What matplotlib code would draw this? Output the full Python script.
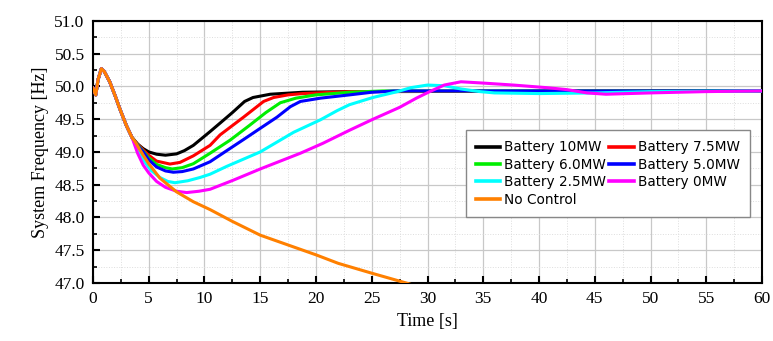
import matplotlib
matplotlib.use('Agg')
import matplotlib.pyplot as plt
from matplotlib.ticker import MultipleLocator, FormatStrFormatter

# common start of all curves (disturbance + first swing)
t_start = [0.0, 0.25, 0.45, 0.75, 1.0, 1.5, 2.0, 2.4, 3.0, 3.5]
f_start = [49.97, 49.87, 50.10, 50.27, 50.23, 50.07, 49.85, 49.66, 49.40, 49.22]

t_10 = [4.0, 4.5, 5.0, 5.7, 6.5, 7.5, 8.2, 9.0, 10.5, 11.4, 12.5, 13.6, 14.35, 15.9, 18.8, 23.0, 60.0]
f_10 = [49.12, 49.05, 49.00, 48.965, 48.95, 48.97, 49.02, 49.10, 49.31, 49.44, 49.60, 49.77, 49.83, 49.88, 49.91, 49.92, 49.93]

t_75 = [4.0, 4.5, 5.0, 5.7, 6.9, 7.8, 9.0, 10.5, 11.4, 13.5, 15.3, 16.2, 17.5, 18.8, 23.0, 60.0]
f_75 = [49.12, 49.03, 48.95, 48.86, 48.815, 48.84, 48.94, 49.10, 49.26, 49.53, 49.77, 49.83, 49.87, 49.89, 49.92, 49.93]

t_60 = [4.0, 4.5, 5.0, 5.7, 6.5, 7.1, 8.0, 9.0, 10.5, 12.3, 14.0, 15.5, 16.8, 18.2, 20.0, 23.0, 26.0, 60.0]
f_60 = [49.11, 49.01, 48.91, 48.81, 48.76, 48.74, 48.76, 48.82, 48.98, 49.18, 49.40, 49.60, 49.75, 49.82, 49.87, 49.91, 49.93, 49.93]

t_50 = [4.0, 4.5, 5.0, 5.7, 6.5, 7.2, 8.0, 9.0, 10.5, 12.0, 13.6, 15.0, 16.5, 17.7, 18.6, 20.4, 23.0, 25.0, 27.0, 60.0]
f_50 = [49.10, 49.00, 48.88, 48.77, 48.71, 48.69, 48.70, 48.74, 48.85, 49.02, 49.20, 49.36, 49.53, 49.69, 49.77, 49.82, 49.87, 49.91, 49.93, 49.93]

t_25 = [4.0, 4.5, 5.2, 6.0, 6.7, 7.35, 8.5, 9.6, 10.5, 12.0, 15.0, 16.8, 18.0, 20.4, 21.9, 23.0, 25.1, 27.3, 28.5, 30.0,
        31.5, 33.0, 34.7, 36.0, 40.0, 45.0, 50.0, 60.0]
f_25 = [49.05, 48.88, 48.72, 48.61, 48.55, 48.53, 48.56, 48.61, 48.66, 48.78, 49.00, 49.18, 49.30, 49.49, 49.63, 49.72, 49.83, 49.92, 49.98, 50.02,
        50.01, 49.96, 49.92, 49.90, 49.89, 49.90, 49.92, 49.93]

t_0 = [4.0, 4.5, 5.0, 5.7, 6.5, 7.5, 8.4, 9.5, 10.5, 12.6, 15.0, 18.6, 20.6, 23.0, 25.0, 27.5, 29.0, 30.2, 31.5, 33.0,
       35.0, 37.7, 40.7, 42.5, 44.3, 46.0, 50.0, 55.0, 60.0]
f_0 = [48.98, 48.80, 48.68, 48.55, 48.46, 48.40, 48.38, 48.40, 48.43, 48.57, 48.74, 48.98, 49.13, 49.33, 49.49, 49.68, 49.82, 49.92, 50.02, 50.07,
       50.05, 50.02, 49.98, 49.95, 49.90, 49.88, 49.90, 49.92, 49.93]

t_nc = [3.8, 4.5, 5.0, 6.0, 7.5, 9.0, 10.5, 12.5, 15.0, 17.5, 20.0, 22.0, 25.0, 28.1, 30.0]
f_nc = [49.15, 48.95, 48.82, 48.60, 48.39, 48.24, 48.12, 47.94, 47.73, 47.58, 47.43, 47.30, 47.15, 47.00, 46.90]

series = [
    ('Battery 10MW', t_10, f_10, 'black'),
    ('Battery 7.5MW', t_75, f_75, '#ff0000'),
    ('Battery 6.0MW', t_60, f_60, '#00ee00'),
    ('Battery 5.0MW', t_50, f_50, '#0000ff'),
    ('Battery 2.5MW', t_25, f_25, '#00ffff'),
    ('Battery 0MW', t_0, f_0, '#ff00ff'),
    ('No Control', t_nc, f_nc, '#ff8000'),
]

plt.rcParams['font.family'] = 'Liberation Serif'
fig = plt.figure(figsize=(7.73, 3.41), dpi=100)
ax = fig.add_axes([0.1203, 0.170, 0.8655, 0.769])

lines = {}
for name, t, f, col in series:
    ln, = ax.plot(t_start + t, f_start + f, color=col, lw=2.2, label=name, zorder=3,
                  solid_joinstyle='round')
    lines[name] = ln

ax.set_xlim(0, 60)
ax.set_ylim(47.0, 51.0)
ax.xaxis.set_major_locator(MultipleLocator(5))
ax.xaxis.set_minor_locator(MultipleLocator(2.5))
ax.yaxis.set_major_locator(MultipleLocator(0.5))
ax.yaxis.set_minor_locator(MultipleLocator(0.25))
ax.yaxis.set_major_formatter(FormatStrFormatter('%.1f'))
ax.grid(which='major', color='#c8c8c8', lw=0.9)
ax.grid(which='minor', color='#dddddd', lw=0.7, ls=':')
ax.set_axisbelow(True)
ax.tick_params(which='major', direction='in', length=5, width=1.5, labelsize=12.5, pad=6)
ax.tick_params(which='minor', direction='in', length=3, width=1.2)
for s in ax.spines.values():
    s.set_linewidth(1.5)

ax.set_xlabel('Time [s]', fontsize=13)
ax.set_ylabel('System Frequency [Hz]', fontsize=13)

order = ['Battery 10MW', 'Battery 6.0MW', 'Battery 2.5MW', 'No Control',
         'Battery 7.5MW', 'Battery 5.0MW', 'Battery 0MW']
leg = ax.legend([lines[n] for n in order], order, ncol=2, loc='upper right',
                bbox_to_anchor=(0.982, 0.583), borderaxespad=0,
                prop={'family': 'DejaVu Sans', 'size': 9.8},
                fancybox=False, edgecolor='#888888', framealpha=1, handlelength=1.8,
                handletextpad=0.3, columnspacing=0.2, labelspacing=0.25, borderpad=0.75)
for h in leg.get_lines():
    h.set_linewidth(2.6)

plt.savefig('out.png', dpi=100)
